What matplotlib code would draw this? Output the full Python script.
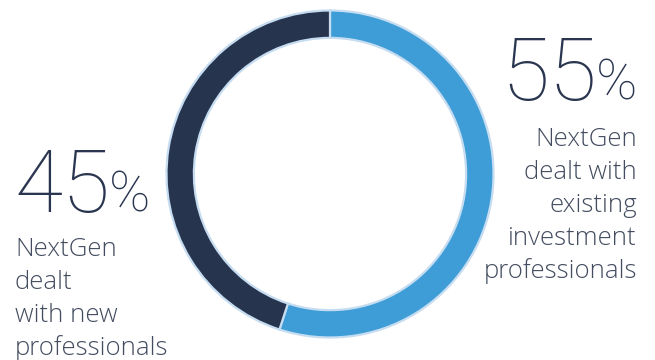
import matplotlib.pyplot as plt

# data
labels = ["NextGen dealt with existing investment professionals",
          "NextGen dealt with new professionals"]
shares = [55, 45]
colors = ["#3e9dd7", "#27344d"]

W, H = 655, 360
NUM_FONT = "Roboto"
TXT_FONT = "Open Sans"

fig = plt.figure(figsize=(W / 100, H / 100), dpi=100)

# donut, centre ~ (330, 174) px, outer radius ~165 px
cx, cy, r = 330, 174, 166
ax = fig.add_axes([(cx - r) / W, (H - cy - r) / H, 2 * r / W, 2 * r / H])
ax.pie(shares, colors=colors, startangle=90, counterclock=False, radius=0.985,
       wedgeprops=dict(width=0.165, edgecolor="#c6ddf1", linewidth=1.6))
ax.set_xlim(-1, 1)
ax.set_ylim(-1, 1)
ax.set_aspect("equal")
ax.axis("off")


def px(x, y):
    return x / W, 1 - y / H


num_col = "#2a3550"
txt_col = "#444d60"

# right side: 55%
fig.text(*px(597, 100), f"{shares[0]}", fontsize=63, family=NUM_FONT, weight=200,
         color=num_col, ha="right", va="baseline")
fig.text(*px(596, 100), "%", fontsize=40, family=NUM_FONT, weight=200,
         color=num_col, ha="left", va="baseline")
for i, line in enumerate(["NextGen", "dealt with", "existing", "investment", "professionals"]):
    fig.text(*px(637, 146 + 33 * i), line, fontsize=18.5, family=TXT_FONT, weight=300,
             color=txt_col, ha="right", va="baseline")

# left side: 45%
fig.text(*px(110, 212), f"{shares[1]}", fontsize=63, family=NUM_FONT, weight=200,
         color=num_col, ha="right", va="baseline")
fig.text(*px(109, 212), "%", fontsize=40, family=NUM_FONT, weight=200,
         color=num_col, ha="left", va="baseline")
for i, line in enumerate(["NextGen", "dealt", "with new", "professionals"]):
    fig.text(*px(15, 256 + 33 * i), line, fontsize=18.5, family=TXT_FONT, weight=300,
             color=txt_col, ha="left", va="baseline")

fig.savefig("out.png", dpi=100)
